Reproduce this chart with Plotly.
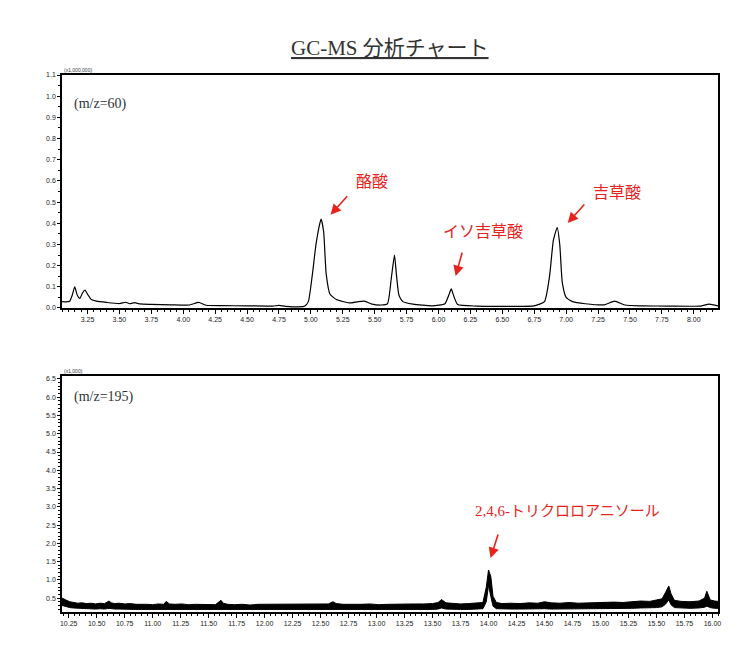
import plotly.graph_objects as go
from plotly.subplots import make_subplots

# m/z=60 chromatogram (retention time in min, intensity x1,000,000)
top_rt = [3.05, 3.08, 3.11, 3.13, 3.15, 3.17, 3.19, 3.21, 3.23, 3.25,
          3.28, 3.32, 3.40, 3.50, 3.55, 3.58, 3.62, 3.66, 3.75, 3.90,
          4.05, 4.12, 4.18, 4.30, 4.50, 4.70, 4.75, 4.80, 4.95, 4.98,
          5.01, 5.04, 5.07, 5.08, 5.10, 5.12, 5.15, 5.20, 5.30, 5.37,
          5.42, 5.48, 5.55, 5.60, 5.63, 5.655, 5.67, 5.69, 5.72, 5.80,
          5.95, 6.05, 6.08, 6.10, 6.12, 6.15, 6.30, 6.50, 6.75, 6.83,
          6.87, 6.90, 6.93, 6.95, 6.97, 7.00, 7.05, 7.15, 7.30, 7.38,
          7.46, 7.60, 7.80, 8.05, 8.12, 8.19]
top_int = [0.030, 0.029, 0.032, 0.060, 0.100, 0.060, 0.045, 0.070, 0.085, 0.065,
           0.040, 0.032, 0.026, 0.021, 0.027, 0.020, 0.025, 0.019, 0.017, 0.015,
           0.014, 0.026, 0.013, 0.011, 0.010, 0.009, 0.012, 0.008, 0.008, 0.030,
           0.150, 0.300, 0.400, 0.420, 0.360, 0.160, 0.065, 0.040, 0.024, 0.030,
           0.032, 0.018, 0.014, 0.020, 0.140, 0.250, 0.160, 0.060, 0.030, 0.018,
           0.010, 0.020, 0.060, 0.090, 0.055, 0.016, 0.009, 0.008, 0.010, 0.030,
           0.150, 0.320, 0.380, 0.300, 0.120, 0.050, 0.030, 0.020, 0.015, 0.032,
           0.014, 0.010, 0.009, 0.009, 0.018, 0.010]

# m/z=195 chromatogram (retention time in min, intensity x1,000), noise band edges
bot_rt = [10.19, 10.21, 10.23, 10.26, 10.29, 10.33, 10.37, 10.41, 10.45, 10.49,
          10.53, 10.57, 10.61, 10.63, 10.66, 10.70, 10.75, 10.80, 10.85, 10.90,
          10.95, 11.00, 11.05, 11.10, 11.12, 11.15, 11.20, 11.26, 11.32, 11.38,
          11.44, 11.50, 11.56, 11.61, 11.63, 11.67, 11.73, 11.80, 11.87, 11.94,
          12.01, 12.08, 12.15, 12.22, 12.29, 12.36, 12.43, 12.50, 12.57, 12.61,
          12.64, 12.70, 12.78, 12.86, 12.94, 13.02, 13.10, 13.18, 13.26, 13.34,
          13.42, 13.50, 13.55, 13.58, 13.62, 13.68, 13.75, 13.82, 13.90, 13.95,
          13.98, 14.00, 14.02, 14.04, 14.07, 14.12, 14.20, 14.28, 14.36, 14.44,
          14.50, 14.56, 14.64, 14.72, 14.80, 14.88, 14.96, 15.04, 15.12, 15.20,
          15.28, 15.36, 15.44, 15.50, 15.55, 15.58, 15.61, 15.63, 15.66, 15.72,
          15.80, 15.88, 15.93, 15.95, 15.98, 16.02, 16.05]
bot_hi = [0.50, 0.46, 0.44, 0.40, 0.38, 0.36, 0.37, 0.35, 0.36, 0.34,
          0.36, 0.35, 0.42, 0.37, 0.35, 0.36, 0.34, 0.35, 0.33, 0.34,
          0.33, 0.32, 0.34, 0.33, 0.41, 0.34, 0.33, 0.34, 0.32, 0.33,
          0.32, 0.33, 0.32, 0.44, 0.36, 0.33, 0.32, 0.33, 0.31, 0.33,
          0.33, 0.32, 0.34, 0.32, 0.33, 0.32, 0.34, 0.33, 0.34, 0.40,
          0.35, 0.33, 0.32, 0.33, 0.34, 0.32, 0.33, 0.34, 0.33, 0.34,
          0.34, 0.35, 0.38, 0.46, 0.37, 0.35, 0.34, 0.35, 0.36, 0.38,
          0.80, 1.27, 1.10, 0.55, 0.38, 0.35, 0.36, 0.35, 0.37, 0.36,
          0.40, 0.37, 0.36, 0.38, 0.36, 0.37, 0.38, 0.37, 0.39, 0.38,
          0.40, 0.42, 0.41, 0.44, 0.48, 0.65, 0.83, 0.62, 0.44, 0.41,
          0.40, 0.42, 0.50, 0.69, 0.45, 0.42, 0.41]
bot_lo = [0.30, 0.28, 0.26, 0.24, 0.23, 0.22, 0.22, 0.21, 0.21, 0.20,
          0.21, 0.20, 0.22, 0.21, 0.20, 0.20, 0.19, 0.20, 0.19, 0.19,
          0.19, 0.18, 0.19, 0.18, 0.19, 0.18, 0.18, 0.19, 0.18, 0.18,
          0.18, 0.17, 0.18, 0.19, 0.18, 0.17, 0.18, 0.17, 0.17, 0.18,
          0.17, 0.18, 0.17, 0.17, 0.18, 0.17, 0.18, 0.17, 0.18, 0.19,
          0.18, 0.17, 0.17, 0.18, 0.18, 0.17, 0.18, 0.18, 0.18, 0.19,
          0.19, 0.19, 0.20, 0.23, 0.20, 0.19, 0.19, 0.19, 0.20, 0.21,
          0.40, 0.85, 0.55, 0.28, 0.21, 0.20, 0.20, 0.20, 0.21, 0.20,
          0.21, 0.20, 0.20, 0.21, 0.20, 0.21, 0.21, 0.21, 0.22, 0.22,
          0.22, 0.23, 0.23, 0.24, 0.26, 0.33, 0.45, 0.32, 0.24, 0.23,
          0.22, 0.23, 0.25, 0.28, 0.24, 0.22, 0.22]

# peak labels: text, arrow head (rt, intensity), tail offset (px), text position (rt, intensity)
top_labels = ["酪酸", "イソ吉草酸", "吉草酸"]
top_heads = [(5.154, 0.44), (6.134, 0.151), (7.012, 0.401)]
top_tails = [(18, -20), (7, -25), (18, -20)]
top_text_pos = [(5.48, 0.595), (6.346, 0.359), (7.40, 0.543)]

bot_labels = ["2,4,6-トリクロロアニソール"]
bot_heads = [(14.018, 1.596)]
bot_tails = [(8, -25)]
bot_text_pos = [(14.705, 2.88)]

RED = "#e8231c"
SERIF = "Liberation Serif, Noto Sans CJK JP, serif"

fig = make_subplots(rows=2, cols=1)

fig.add_trace(
    go.Scatter(x=top_rt, y=top_int, mode="lines",
               line=dict(color="black", width=1.2, shape="spline", smoothing=0.5)),
    row=1, col=1,
)
fig.add_trace(
    go.Scatter(x=bot_rt, y=bot_lo, mode="lines", line=dict(color="black", width=1)),
    row=2, col=1,
)
fig.add_trace(
    go.Scatter(x=bot_rt, y=bot_hi, mode="lines", line=dict(color="black", width=1),
               fill="tonexty", fillcolor="black"),
    row=2, col=1,
)

axis_common = dict(
    showgrid=False, zeroline=False, showline=True, mirror=True,
    linecolor="black", linewidth=1.5, ticks="outside", ticklen=4,
    tickcolor="black", tickfont=dict(size=7, color="#222"),
)
minor_x = dict(dtick=0.05, ticklen=2, ticks="outside", tickcolor="black")

fig.update_xaxes(axis_common)
fig.update_yaxes(axis_common)

# the page body has an 8px margin, so domains are shifted by 8px up/left
fig.update_xaxes(domain=[0.072, 0.9467], range=[3.05, 8.19], tick0=3.0, dtick=0.25,
                 tickformat=".2f", minor=minor_x, row=1, col=1)
fig.update_yaxes(domain=[0.5385, 0.8969], range=[0, 1.1], dtick=0.1, tickformat=".1f", ticklen=3,
                 minor=dict(dtick=0.05, ticklen=2, ticks="outside", tickcolor="black"), row=1, col=1)
fig.update_xaxes(domain=[0.072, 0.9467], range=[10.19, 16.05], tick0=10.0, dtick=0.25,
                 tickformat=".2f", minor=minor_x, row=2, col=1)
fig.update_yaxes(domain=[0.0708, 0.4338], range=[0.12, 6.58], tick0=0.5, dtick=0.5, tickformat=".1f",
                 ticklen=3, minor=dict(dtick=0.1, ticklen=2, ticks="outside", tickcolor="black"),
                 row=2, col=1)

annotations = [
    dict(text="<u>GC-MS 分析チャート</u>", xref="paper", yref="paper", x=0.509, y=0.96,
         showarrow=False, font=dict(family=SERIF, size=21, color="#333")),
    dict(text="(m/z=60)", xref="paper", yref="paper", x=0.0853, y=0.8677, xanchor="left",
         showarrow=False, font=dict(family=SERIF, size=14, color="#333")),
    dict(text="(m/z=195)", xref="paper", yref="paper", x=0.0853, y=0.4015, xanchor="left",
         showarrow=False, font=dict(family=SERIF, size=14, color="#333")),
    dict(text="(x1,000,000)", xref="paper", yref="paper", x=0.072, y=0.8969, xanchor="left",
         yanchor="bottom", showarrow=False, font=dict(size=5, color="#333")),
    dict(text="(x1,000)", xref="paper", yref="paper", x=0.072, y=0.4338, xanchor="left",
         yanchor="bottom", showarrow=False, font=dict(size=5, color="#333")),
]

for refs, size, labels, heads, tails, pos in [
    (("x", "y"), 16, top_labels, top_heads, top_tails, top_text_pos),
    (("x2", "y2"), 15, bot_labels, bot_heads, bot_tails, bot_text_pos),
]:
    for label, (hx, hy), (ax, ay), (tx, ty) in zip(labels, heads, tails, pos):
        annotations.append(dict(
            text="", xref=refs[0], yref=refs[1], x=hx, y=hy, ax=ax, ay=ay,
            showarrow=True, arrowhead=2, arrowsize=1.3, arrowwidth=1.6, arrowcolor=RED,
        ))
        annotations.append(dict(
            text=label, xref=refs[0], yref=refs[1], x=tx, y=ty, showarrow=False,
            font=dict(family=SERIF, size=size, color=RED),
        ))

fig.update_layout(
    width=750, height=650,
    margin=dict(l=0, r=0, t=0, b=0, autoexpand=False),
    paper_bgcolor="white", plot_bgcolor="white",
    showlegend=False,
    font=dict(family="Liberation Sans, Noto Sans CJK JP", size=7, color="#222"),
    annotations=annotations,
)

fig.write_html("out.html")
